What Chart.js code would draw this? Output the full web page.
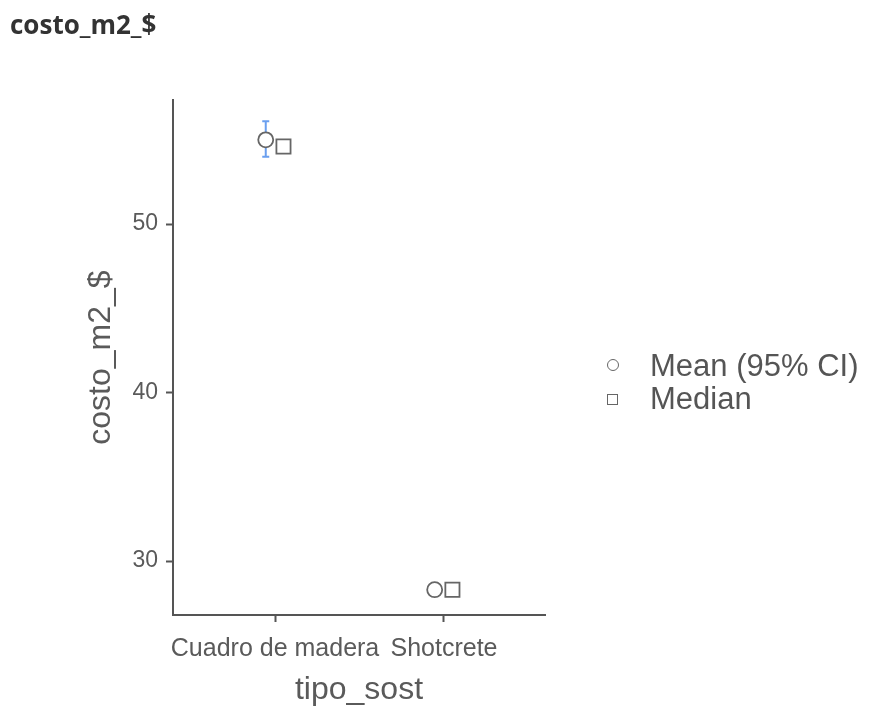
<!DOCTYPE html>
<html>
<head>
<meta charset="utf-8">
<script src="https://cdn.jsdelivr.net/npm/chart.js@4.4.1/dist/chart.umd.min.js"></script>
<style>
    body { margin: 0; background: #fff; }
    #wrap { position: relative; width: 881px; height: 713px; }
    .leg { position: absolute; left: 603px; font-family: "Liberation Sans", Arial, sans-serif; font-size: 31px; color: #555; line-height: 32px; height: 32px; }
    .leg span.sym { position: absolute; left: 4px; top: 11px; width: 11px; height: 11px; border: 1.5px solid #666; box-sizing: border-box; }
    .leg span.txt { position: absolute; left: 47px; white-space: nowrap; }
</style>
</head>
<body>
<div id="wrap">
    <canvas id="plot" width="881" height="713"></canvas>
    <div class="leg" style="top:350px"><span class="sym" style="border-radius:50%;width:12px;height:12px;left:4px;top:9px"></span><span class="txt">Mean (95% CI)</span></div>
    <div class="leg" style="top:383px"><span class="sym"></span><span class="txt">Median</span></div>
</div>
<script>
// values
var categories = ['Cuadro de madera', 'Shotcrete'];
var meanValues = [55.0, 28.3];
var ciLower = [54.0, null];
var ciUpper = [56.1, null];
var medianValues = [54.6, 28.3];
var yTicks = [30, 40, 50];

var meanShift = -0.055;
var medianShift = 0.05;
var axisGray = '#555';
var textGray = '#5a5a5a';

document.addEventListener("DOMContentLoaded", function() {
    var ctx = document.getElementById('plot').getContext('2d');

    var meanPoints = meanValues.map(function(v, i) { return {x: i + 1 + meanShift, y: v}; });
    var medianPoints = medianValues.map(function(v, i) { return {x: i + 1 + medianShift, y: v}; });

    // blue 95% CI whiskers behind the mean circles
    var ciBars = {
        id: 'ciBars',
        beforeDatasetsDraw: function(chart) {
            var xs = chart.scales.x, ys = chart.scales.y, c = chart.ctx;
            c.save();
            c.strokeStyle = '#6a9fef';
            c.lineWidth = 2;
            categories.forEach(function(cat, i) {
                if (ciLower[i] == null) return;
                var x = xs.getPixelForValue(i + 1 + meanShift);
                var y1 = ys.getPixelForValue(ciLower[i]);
                var y2 = ys.getPixelForValue(ciUpper[i]);
                c.beginPath();
                c.moveTo(x, y1); c.lineTo(x, y2);
                c.moveTo(x - 3.5, y1); c.lineTo(x + 3.5, y1);
                c.moveTo(x - 3.5, y2); c.lineTo(x + 3.5, y2);
                c.stroke();
            });
            c.restore();
        }
    };

    new Chart(ctx, {
        type: 'scatter',
        data: {
            datasets: [
                {
                    label: 'Mean (95% CI)',
                    data: meanPoints,
                    pointStyle: 'circle',
                    pointRadius: 7.5,
                    pointBackgroundColor: '#fff',
                    pointBorderColor: '#666',
                    pointBorderWidth: 1.8,
                },
                {
                    label: 'Median',
                    data: medianPoints,
                    pointStyle: 'rect',
                    pointRadius: 10,
                    pointBackgroundColor: '#fff',
                    pointBorderColor: '#666',
                    pointBorderWidth: 1.8,
                },
            ],
        },
        options: {
            responsive: false,
            animation: false,
            layout: { padding: { left: 10, top: 11, right: 336, bottom: 0 } },
            plugins: {
                legend: { display: false },
                tooltip: { enabled: false },
                title: {
                    display: true,
                    text: 'costo_m2_$',
                    align: 'start',
                    color: '#333',
                    font: { family: '"Open Sans", sans-serif', size: 26, weight: 'bold' },
                    padding: { top: 0, bottom: 58 },
                },
            },
            scales: {
                x: {
                    type: 'linear',
                    min: 0.396,
                    max: 2.598,
                    afterFit: function(s) { s.height = 98; },
                    afterBuildTicks: function(s) {
                        s.ticks = categories.map(function(c, i) { return {value: i + 1}; });
                    },
                    ticks: {
                        autoSkip: false,
                        maxRotation: 0,
                        minRotation: 0,
                        padding: 12,
                        color: textGray,
                        font: { family: '"Liberation Sans", Arial, sans-serif', size: 25 },
                        callback: function(v) { return categories[Math.round(v) - 1]; },
                    },
                    grid: { drawOnChartArea: false, drawTicks: true, tickLength: 7, tickColor: axisGray, tickWidth: 2 },
                    border: { display: true, color: axisGray, width: 2 },
                    title: {
                        display: true,
                        text: 'tipo_sost',
                        color: textGray,
                        font: { family: '"Liberation Sans", Arial, sans-serif', size: 32 },
                        padding: { top: 0, bottom: 4 },
                    },
                },
                y: {
                    min: 26.8,
                    max: 57.35,
                    afterFit: function(s) { s.width = 163; },
                    afterBuildTicks: function(s) {
                        s.ticks = yTicks.map(function(v) { return {value: v}; });
                    },
                    ticks: {
                        padding: 8,
                        color: textGray,
                        font: { family: '"Liberation Sans", Arial, sans-serif', size: 23 },
                    },
                    grid: { drawOnChartArea: false, drawTicks: true, tickLength: 7, tickColor: axisGray, tickWidth: 2 },
                    border: { display: true, color: axisGray, width: 2 },
                    title: {
                        display: true,
                        text: 'costo_m2_$',
                        color: textGray,
                        font: { family: '"Liberation Sans", Arial, sans-serif', size: 32 },
                        padding: { top: 72, bottom: 0 },
                    },
                },
            },
        },
        plugins: [ciBars],
    });
});
</script>
</body>
</html>
